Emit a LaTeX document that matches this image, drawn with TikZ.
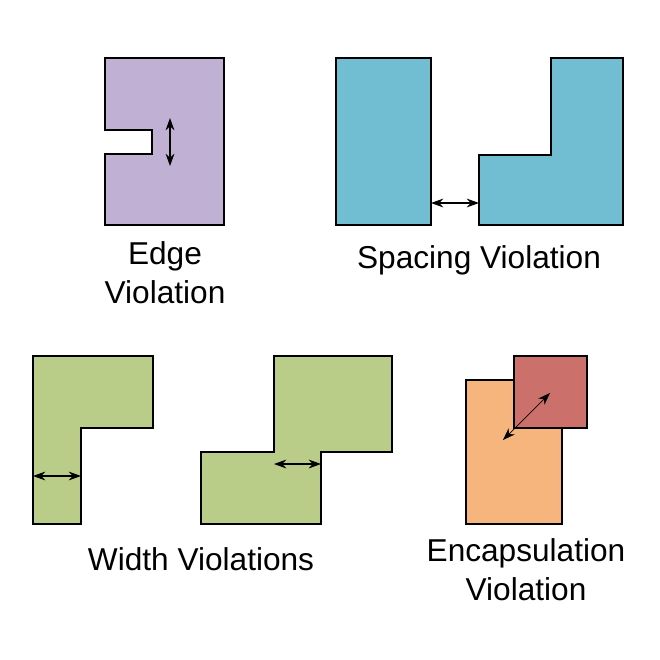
\documentclass[tikz,border=0pt]{standalone}
\usepackage{fontspec}
\setmainfont{Liberation Sans}
\usetikzlibrary{arrows.meta,positioning}
\definecolor{edgefill}{RGB}{192,176,212}
\definecolor{spacefill}{RGB}{113,190,211}
\definecolor{widthfill}{RGB}{185,204,136}
\definecolor{outerfill}{RGB}{247,181,126}
\definecolor{innerfill}{RGB}{204,112,107}
\tikzset{
	%Define standard arrow tip
	>={Stealth[length=7pt,width=5pt]},
	%Define style for layout shapes
	poly/.style={draw=black, line width=0.7pt},
	%Define style for labels
	caption/.style={font=\fontsize{18}{22}\selectfont, align=center, inner sep=0pt},
	% Define arrow style
	pil/.style={<->, line width=0.6pt}
}
\begin{document}
\begin{tikzpicture}[x=0.02cm, y=-0.02cm]
		\useasboundingbox (0,0) rectangle (660,660);
		% edge violation
		\draw[poly, fill=edgefill] (105,58) -- (224,58) -- (224,225) -- (105,225) -- (105,154) -- (152,154) -- (152,130) -- (105,130) -- cycle;
		\coordinate (edgetop) at (170,118);
		\coordinate (edgebot) at (170,166);
		\draw[pil] (edgetop) -- (edgebot);
		\node[caption] (edgelabel) at (165,273) {Edge\\Violation};
		% spacing violation
		\draw[poly, fill=spacefill] (336,58) rectangle (431,225);
		\draw[poly, fill=spacefill] (551,58) -- (623,58) -- (623,225) -- (479,225) -- (479,155) -- (551,155) -- cycle;
		\coordinate (spaceleft) at (431,203);
		\coordinate (spaceright) at (479,203);
		\draw[pil] (spaceleft) -- (spaceright);
		\node[caption] (spacelabel) at (479,260) {Spacing Violation};
		% width violations
		\draw[poly, fill=widthfill] (33,356) -- (153,356) -- (153,428) -- (81,428) -- (81,524) -- (33,524) -- cycle;
		\draw[poly, fill=widthfill] (274,356) -- (392,356) -- (392,452) -- (321,452) -- (321,524) -- (201,524) -- (201,452) -- (274,452) -- cycle;
		\coordinate (widthaleft) at (33,476);
		\coordinate (widtharight) at (81,476);
		\coordinate (widthbleft) at (274,464);
		\coordinate (widthbright) at (321,464);
		\draw[pil] (widthaleft) -- (widtharight);
		\draw[pil] (widthbleft) -- (widthbright);
		\node[caption] (widthlabel) at (201,559) {Width Violations};
		% encapsulation violation
		\draw[poly, fill=outerfill] (466,380) rectangle (562,524);
		\draw[poly, fill=innerfill] (514,356) rectangle (587,428);
		\coordinate (encfrom) at (503,440);
		\coordinate (encto) at (550,393);
		\draw[pil, line width=0.4pt] (encfrom) -- (encto);
		\node[caption] (enclabel) at (526,570) {Encapsulation\\Violation};
	\end{tikzpicture}
\end{document}
